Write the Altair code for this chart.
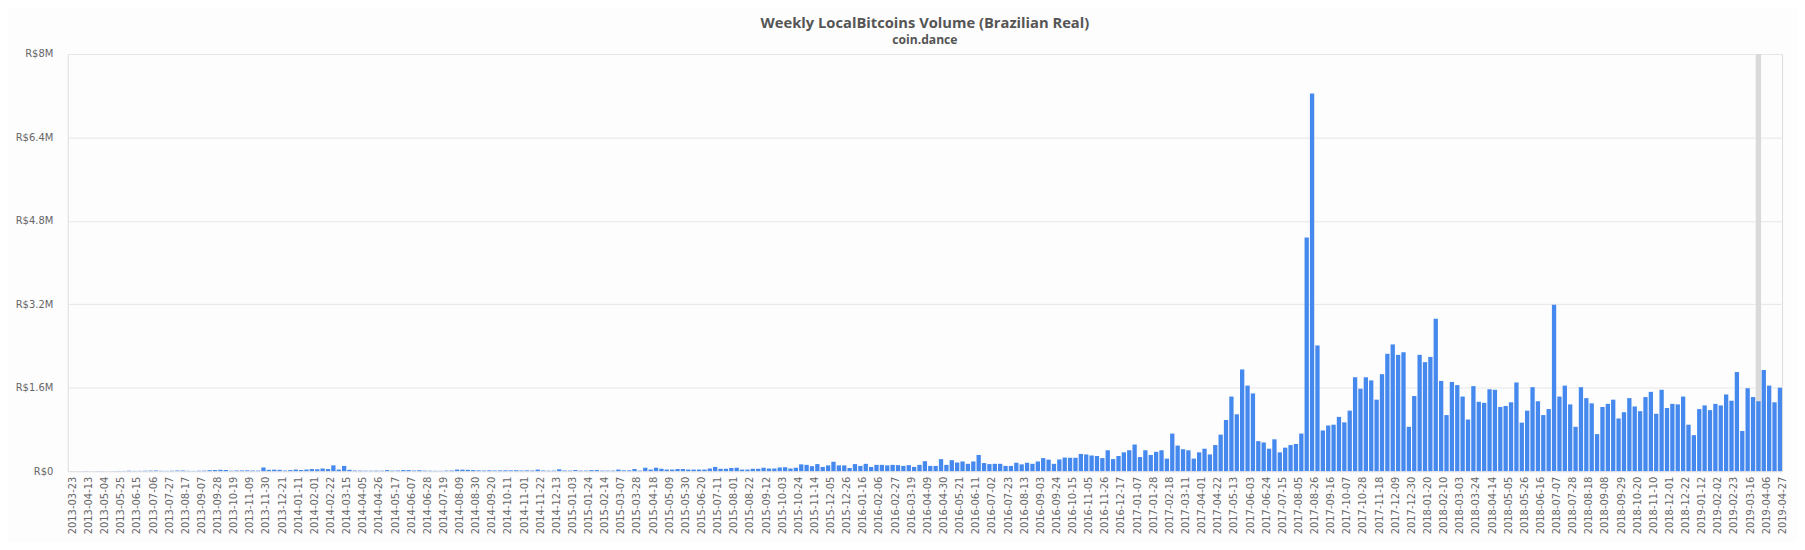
import altair as alt
import pandas as pd

# weekly buckets, Saturday starts
week_start = pd.date_range("2013-03-23", "2019-04-27", freq="7D").strftime("%Y-%m-%d").tolist()

# weekly volume, millions of BRL
vol_2013 = [0.001, 0.001, 0.001, 0.002, 0.001, 0.002, 0.002, 0.001, 0.002, 0.003,
            0.003, 0.008, 0.004, 0.005, 0.008, 0.01, 0.012, 0.006, 0.005, 0.008,
            0.012, 0.012, 0.006, 0.004, 0.008, 0.01, 0.018, 0.022, 0.025, 0.022,
            0.008, 0.012, 0.014, 0.015, 0.012, 0.01, 0.07, 0.025, 0.028, 0.025,
            0.012]
vol_2014 = [0.02, 0.03, 0.022, 0.03, 0.04, 0.035, 0.05, 0.04, 0.11, 0.03,
            0.10, 0.025, 0.012, 0.01, 0.008, 0.008, 0.01, 0.008, 0.02, 0.01,
            0.012, 0.02, 0.02, 0.012, 0.018, 0.01, 0.008, 0.006, 0.006, 0.01,
            0.012, 0.03, 0.028, 0.025, 0.02, 0.015, 0.012, 0.015, 0.012, 0.014,
            0.016, 0.015, 0.018, 0.012, 0.015, 0.012, 0.03, 0.012, 0.008, 0.01,
            0.035, 0.012]
vol_2015 = [0.01, 0.02, 0.01, 0.01, 0.02, 0.02, 0.01, 0.01, 0.01, 0.03,
            0.015, 0.015, 0.04, 0.01, 0.065, 0.03, 0.065, 0.045, 0.03, 0.03,
            0.04, 0.04, 0.03, 0.03, 0.03, 0.03, 0.05, 0.08, 0.045, 0.045,
            0.06, 0.065, 0.03, 0.03, 0.045, 0.045, 0.065, 0.05, 0.05, 0.07,
            0.075, 0.05, 0.065, 0.13, 0.12, 0.095, 0.135, 0.08, 0.11, 0.18,
            0.11, 0.11]
vol_2016 = [0.06, 0.135, 0.10, 0.14, 0.08, 0.12, 0.12, 0.11, 0.12, 0.115,
            0.10, 0.115, 0.08, 0.12, 0.19, 0.10, 0.10, 0.23, 0.12, 0.21,
            0.165, 0.185, 0.14, 0.185, 0.31, 0.155, 0.135, 0.14, 0.14, 0.10,
            0.10, 0.16, 0.13, 0.16, 0.14, 0.185, 0.25, 0.22, 0.14, 0.224,
            0.26, 0.256, 0.256, 0.33, 0.32, 0.30, 0.29, 0.25, 0.40, 0.23,
            0.29, 0.36, 0.40]
vol_2017 = [0.51, 0.27, 0.40, 0.31, 0.37, 0.40, 0.24, 0.72, 0.49, 0.42,
            0.40, 0.24, 0.36, 0.43, 0.32, 0.50, 0.70, 0.98, 1.43, 1.09,
            1.95, 1.64, 1.49, 0.575, 0.55, 0.43, 0.61, 0.36, 0.45, 0.50,
            0.52, 0.72, 4.48, 7.24, 2.41, 0.78, 0.875, 0.89, 1.04, 0.935,
            1.16, 1.80, 1.58, 1.80, 1.74, 1.37, 1.86, 2.25, 2.43, 2.23,
            2.28, 0.85]
vol_2018 = [1.44, 2.23, 2.09, 2.19, 2.92, 1.73, 1.075, 1.71, 1.65, 1.43,
            0.99, 1.63, 1.33, 1.31, 1.57, 1.56, 1.23, 1.25, 1.32, 1.70,
            0.93, 1.16, 1.61, 1.34, 1.075, 1.19, 3.19, 1.43, 1.64, 1.28,
            0.85, 1.61, 1.40, 1.30, 0.71, 1.23, 1.29, 1.37, 1.01, 1.13,
            1.40, 1.24, 1.15, 1.42, 1.52, 1.10, 1.56, 1.21, 1.29, 1.28,
            1.43, 0.89]
vol_2019 = [0.69, 1.19, 1.26, 1.17, 1.29, 1.26, 1.47, 1.35, 1.90, 0.77,
            1.59, 1.42, 1.34, 1.94, 1.64, 1.32, 1.60]

volume_m = vol_2013 + vol_2014 + vol_2015 + vol_2016 + vol_2017 + vol_2018 + vol_2019

y_ticks = [0, 1.6, 3.2, 4.8, 6.4, 8]
label_weeks = week_start[::3]
hover_week = ["2019-03-30"]

df = pd.DataFrame({"week": week_start, "volume": volume_m})
hover_df = pd.DataFrame({"week": hover_week, "volume": [8]})

x_enc = alt.X(
    "week:N",
    sort=week_start,
    scale=alt.Scale(domain=week_start, paddingInner=0.2, paddingOuter=0),
    axis=alt.Axis(
        title=None,
        values=label_weeks,
        labelAngle=270,
        labelFont="DejaVu Sans",
        labelFontSize=10,
        labelColor="#666666",
        labelPadding=5,
        labelOffset=3,
        ticks=False,
        domainColor="#e6e6e6",
        grid=False,
        labelOverlap=False,
    ),
)
y_enc = alt.Y(
    "volume:Q",
    scale=alt.Scale(domain=[0, 8], nice=False),
    axis=alt.Axis(
        title=None,
        values=y_ticks,
        labelExpr="datum.value == 0 ? 'R$0' : 'R$' + format(datum.value, '.2~f') + 'M'",
        labelFont="DejaVu Sans",
        labelFontSize=10,
        labelColor="#666666",
        labelPadding=15,
        ticks=False,
        domain=False,
        gridColor="#e6e6e6",
    ),
)

hover = alt.Chart(hover_df).mark_bar(color="#dadada", width=alt.RelativeBandSize(1.25)).encode(
    x=x_enc, y=y_enc
)

bars = alt.Chart(df).mark_bar(color="#4589ee").encode(x=x_enc, y=y_enc)

chart = (
    alt.layer(hover, bars)
    .properties(
        width=1722,
        height=419,
        padding={"left": 60, "top": 45, "right": 15, "bottom": 70},
        autosize=alt.AutoSizeParams(type="none"),
        title=alt.TitleParams(
            text="Weekly LocalBitcoins Volume (Brazilian Real)",
            subtitle="coin.dance",
            anchor="middle",
            font="Open Sans",
            fontSize=14.8,
            fontWeight="bold",
            color="#555555",
            subtitleFont="Open Sans",
            subtitleFontSize=12.2,
            subtitleFontWeight="bold",
            subtitleColor="#555555",
            subtitlePadding=3,
            offset=3,
        ),
    )
    .configure_view(stroke=None)
    .configure(background="#fdfdfe")
)

chart.save("out.html", embed_options={"renderer": "svg", "actions": False})
